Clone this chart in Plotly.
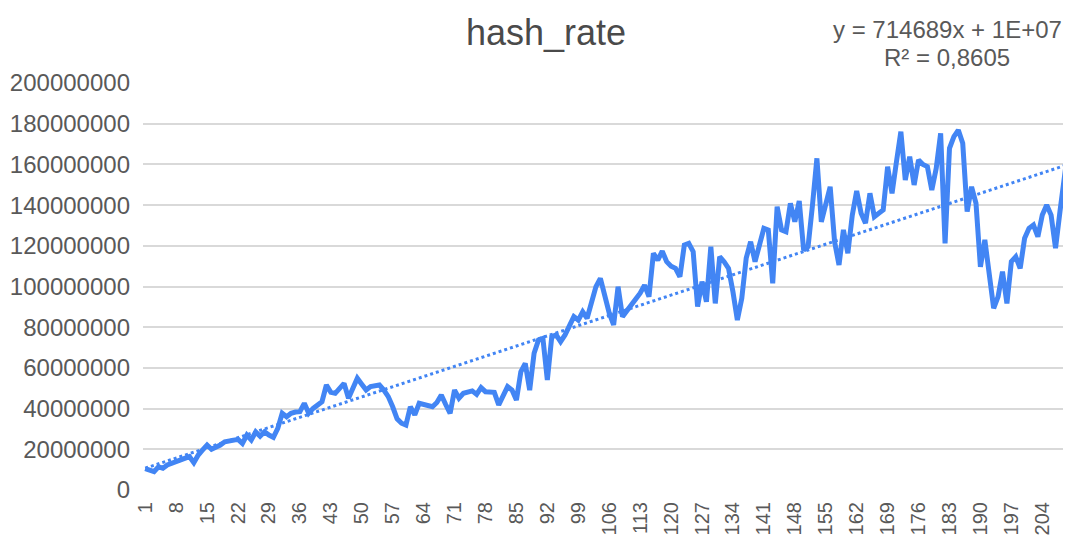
import plotly.graph_objects as go

# hash_rate values (millions), one per observation index 1..210
hash_rate_m = [
    10.5, 10.0, 9.0, 11.4, 10.7, 12.3, 13.1, 13.5, 14.7, 15.0,
    16.4, 13.4, 17.2, 19.7, 22.1, 20.0, 21.0, 22.1, 23.7, 24.0,
    24.5, 24.9, 22.9, 27.0, 24.6, 28.6, 26.4, 28.6, 27.0, 25.9,
    30.3, 37.7, 36.0, 37.7, 38.3, 38.5, 42.6, 37.7, 40.1, 41.5,
    43.4, 51.6, 48.0, 47.5, 50.0, 52.4, 45.1, 50.0, 54.9, 52.0,
    49.1, 50.8, 51.0, 51.6, 49.1, 45.9, 40.9, 35.0, 32.8, 31.9,
    40.9, 36.9, 42.6, 42.2, 41.8, 40.9, 43.0, 46.7, 42.0, 37.7,
    49.1, 45.1, 47.5, 48.0, 48.7, 47.0, 50.3, 48.3, 48.2, 48.0,
    41.8, 46.0, 50.8, 49.1, 44.2, 58.1, 62.2, 49.1, 67.2, 73.7,
    74.5, 54.1, 75.3, 76.2, 72.9, 76.2, 81.1, 85.2, 83.5, 87.6,
    84.4, 92.5, 99.9, 104.0, 94.2, 87.0, 81.1, 99.9, 85.2, 88.0,
    90.9, 94.0, 96.7, 100.7, 95.0, 116.3, 113.0, 117.4, 112.2, 110.0,
    108.9, 104.8, 120.4, 121.2, 117.1, 90.1, 102.4, 92.5, 119.6, 91.7,
    114.6, 112.2, 108.9, 97.4, 83.5, 94.2, 113.9, 122.0, 112.2, 120.4,
    128.6, 127.8, 101.6, 139.2, 127.8, 126.9, 140.9, 131.8, 142.0, 117.9,
    119.6, 140.0, 163.0, 131.8, 140.0, 149.0, 122.0, 110.6, 127.8, 116.3,
    135.0, 146.9, 136.0, 131.1, 145.8, 134.3, 136.0, 137.6, 158.9, 145.8,
    161.3, 176.1, 152.3, 163.8, 149.9, 162.2, 160.0, 158.9, 147.4, 158.1,
    175.3, 121.2, 167.9, 173.6, 176.9, 170.4, 136.8, 149.0, 140.9, 109.7,
    122.9, 107.3, 89.3, 95.0, 107.3, 91.7, 112.2, 114.6, 108.9, 123.7,
    128.6, 130.2, 124.5, 135.1, 140.1, 135.1, 118.8, 136.8, 153.2, 170.4,
]
categories = list(range(1, len(hash_rate_m) + 1))
hash_rate = [v * 1e6 for v in hash_rate_m]

# linear trendline shown on chart
trend_slope = 714689
trend_intercept = 1e7
trend_label = "y = 714689x + 1E+07"
r2_label = "R² = 0,8605"

x_tick_vals = list(range(1, 210, 7))
y_tick_vals = list(range(0, 200000001, 20000000))

trend = [trend_slope * x + trend_intercept for x in categories]

BLUE = "#4285F4"
GREY = "#595959"
FONT = "Liberation Sans, Arial, sans-serif"

# page body has an 8px default margin; figure is sized to fit inside the window
W, H = 1063, 535

fig = go.Figure()
fig.add_trace(go.Scatter(x=categories, y=hash_rate, mode="lines",
                         line=dict(color=BLUE, width=5), showlegend=False,
                         cliponaxis=False))
fig.add_trace(go.Scatter(x=categories, y=trend, mode="lines",
                         line=dict(color=BLUE, width=3, dash="dot"), showlegend=False))

fig.update_layout(
    width=W, height=H,
    margin=dict(l=135, r=0, t=75, b=53, autoexpand=False),
    paper_bgcolor="white", plot_bgcolor="white",
    font=dict(family=FONT, color=GREY),
    title=dict(text="hash_rate", x=(546 - 8) / W, xref="container", xanchor="center",
               y=1 - (32 - 8) / H, yref="container", yanchor="middle",
               font=dict(size=36, color="#4a4a4a", family=FONT)),
)
fig.update_xaxes(range=[0.5, len(categories) + 0.5], tickvals=x_tick_vals,
                 ticktext=[str(v) for v in x_tick_vals], tickangle=-90,
                 tickfont=dict(size=20, color=GREY), showgrid=False,
                 zeroline=False, showline=False, ticks="", automargin=False,
                 ticklabelstandoff=7)
fig.update_yaxes(range=[0, 200000000], tickvals=y_tick_vals, tickformat="d",
                 tickfont=dict(size=24, color=GREY), showgrid=True,
                 gridcolor="#d9d9d9", gridwidth=1.5, zeroline=False,
                 showline=False, ticks="", automargin=False,
                 ticklabelstandoff=12)

fig.add_annotation(text=trend_label, xref="paper", yref="paper",
                   x=(947 - 143) / 928, y=(490 - 30) / 407, xanchor="center",
                   yanchor="middle", showarrow=False,
                   font=dict(size=24, color=GREY, family=FONT))
fig.add_annotation(text=r2_label, xref="paper", yref="paper",
                   x=(947 - 143) / 928, y=(490 - 57) / 407, xanchor="center",
                   yanchor="middle", showarrow=False,
                   font=dict(size=24, color=GREY, family=FONT))

fig.write_html("out.html")
